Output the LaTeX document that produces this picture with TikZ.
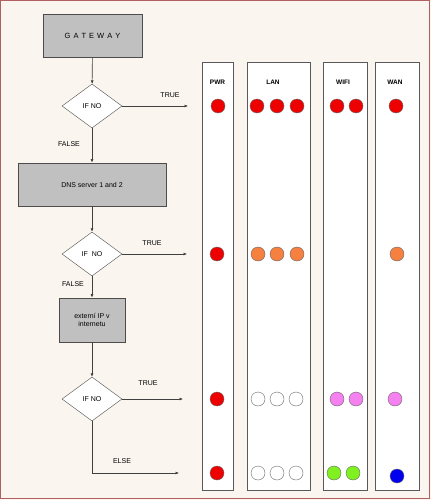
\documentclass[tikz,border=0pt]{standalone}
\usepackage{fontspec}
\setmainfont{Liberation Sans}
\usetikzlibrary{shapes.geometric,arrows.meta}
\definecolor{bg}{HTML}{FAF6EF}
\definecolor{frame}{HTML}{B06060}
\definecolor{boxgray}{HTML}{C0C0C0}
\definecolor{ledred}{HTML}{EE0000}
\definecolor{ledorange}{HTML}{F58040}
\definecolor{ledpink}{HTML}{F580F0}
\definecolor{ledgreen}{HTML}{80F020}
\definecolor{ledblue}{HTML}{0000EE}
\tikzset{
  proc/.style={draw=black!70, fill=boxgray, line width=0.8pt, font=\fontsize{7}{8}\selectfont, align=center, inner sep=0pt},
  dec/.style={draw=black!70, fill=white, diamond, inner sep=0pt, minimum width=60pt, minimum height=44pt, font=\fontsize{7}{8}\selectfont},
  conn/.style={draw=black!75, line width=0.6pt, -{Latex[length=3.5pt,width=3pt]}},
  lbl/.style={font=\fontsize{7}{8}\selectfont},
  col/.style={draw=black!65, fill=white, line width=0.7pt},
  colhead/.style={font=\bfseries\fontsize{6.5}{8}\selectfont},
  led/.style={circle, draw=black!60, line width=0.4pt, minimum size=14pt, inner sep=0pt},
}
\newcommand{\spc}{\hspace{3pt}}
\begin{document}
\begin{tikzpicture}[x=1pt,y=-1pt]
\useasboundingbox (0,0) rectangle (431,500);
\fill[bg] (0,0) rectangle (431,500);
\draw[frame, line width=1pt] (0.5,0.5) rectangle (429.5,498.5);
% flowchart
\node[proc, minimum width=99pt, minimum height=43pt, font=\fontsize{7.5}{8}\selectfont] (gw) at (92.5,35.5) {G\spc A\spc T\spc E\spc W\spc A\spc Y};
\node[dec] (d1) at (92,106) {IF NO};
\node[proc, minimum width=148pt, minimum height=43pt] (dns) at (92,184.5) {DNS server 1 and 2};
\node[dec] (d2) at (92,254) {IF\ \ NO};
\node[proc, minimum width=66pt, minimum height=44pt] (ext) at (92,320) {externí IP v\\internetu};
\node[dec] (d3) at (92,399) {IF NO};
\coordinate (t1) at (188,106);
\coordinate (t2) at (187,254);
\coordinate (t3) at (183,399);
\coordinate (c4) at (92,473);
\coordinate (t4) at (179,473);
\draw[conn] (gw) -- (d1);
\draw[conn] (d1) -- (dns);
\draw[conn] (dns) -- (d2);
\draw[conn] (d2) -- (ext);
\draw[conn] (ext) -- (d3);
\draw[conn] (d1.east) -- (t1);
\draw[conn] (d2.east) -- (t2);
\draw[conn] (d3.east) -- (t3);
\draw[conn] (d3.south) -- (c4) -- (t4);
\node[lbl] (l1) at (170,95) {TRUE};
\node[lbl] (l2) at (69,144) {FALSE};
\node[lbl] (l3) at (152,243) {TRUE};
\node[lbl] (l4) at (73,284) {FALSE};
\node[lbl] (l5) at (148,383) {TRUE};
\node[lbl] (l6) at (122,461) {ELSE};
% columns
\draw[col] (202,62) rectangle (233,490);
\draw[col] (247,62) rectangle (310,490);
\draw[col] (323,62) rectangle (367,490);
\draw[col] (375,62) rectangle (419,490);
\node[colhead] (hp) at (217.5,82) {PWR};
\node[colhead] (hl) at (273,82) {LAN};
\node[colhead] (hw) at (343,82) {WIFI};
\node[colhead] (hn) at (395,82) {WAN};
% row 1
\node[led, fill=ledred] (a1) at (218,106) {};
\node[led, fill=ledred] (a2) at (257,106) {};
\node[led, fill=ledred] (a3) at (277,106) {};
\node[led, fill=ledred] (a4) at (297,106) {};
\node[led, fill=ledred] (a5) at (337,106) {};
\node[led, fill=ledred] (a6) at (356,106) {};
\node[led, fill=ledred] (a7) at (396,106) {};
% row 2
\node[led, fill=ledred] (b1) at (217,254) {};
\node[led, fill=ledorange] (b2) at (258,254) {};
\node[led, fill=ledorange] (b3) at (277,254) {};
\node[led, fill=ledorange] (b4) at (297,254) {};
\node[led, fill=ledorange] (b7) at (397,254) {};
% row 3
\node[led, fill=ledred] (c1) at (217,399) {};
\node[led, fill=white] (c2) at (258,399) {};
\node[led, fill=white] (c3) at (277,399) {};
\node[led, fill=white] (c4n) at (296,399) {};
\node[led, fill=ledpink] (c5) at (337,399) {};
\node[led, fill=ledpink] (c6) at (356,399) {};
\node[led, fill=ledpink] (c7) at (395,399) {};
% row 4
\node[led, fill=ledred] (e1) at (217,473) {};
\node[led, fill=white] (e2) at (258,473) {};
\node[led, fill=white] (e3) at (277,473) {};
\node[led, fill=white] (e4) at (296,473) {};
\node[led, fill=ledgreen] (e5) at (334,473) {};
\node[led, fill=ledgreen] (e6) at (353,473) {};
\node[led, fill=ledblue] (e7) at (397,476) {};
\end{tikzpicture}
\end{document}
